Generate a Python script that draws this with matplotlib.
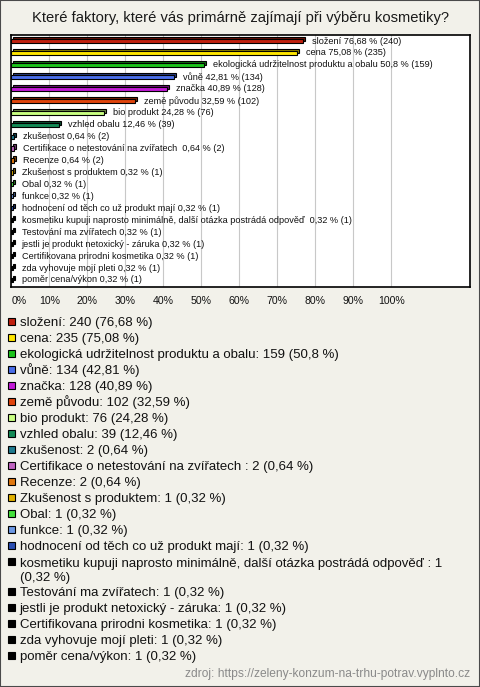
import textwrap
import numpy as np
import matplotlib
matplotlib.use("Agg")
import matplotlib.pyplot as plt
from matplotlib.patches import Rectangle
from matplotlib.transforms import offset_copy
from matplotlib.colors import to_rgb

title = "Které faktory, které vás primárně zajímají při výběru kosmetiky?"
categories = [
    "složení", "cena", "ekologická udržitelnost produktu a obalu", "vůně", "značka",
    "země původu", "bio produkt", "vzhled obalu", "zkušenost",
    "Certifikace o netestování na zvířatech ", "Recenze", "Zkušenost s produktem",
    "Obal", "funkce", "hodnocení od těch co už produkt mají",
    "kosmetiku kupuji naprosto minimálně, další otázka postrádá odpověď ",
    "Testování ma zvířatech", "jestli je produkt netoxický - záruka",
    "Certifikovana prirodni kosmetika", "zda vyhovuje mojí pleti", "poměr cena/výkon",
]
counts = [240, 235, 159, 134, 128, 102, 76, 39, 2, 2, 2, 1, 1, 1, 1, 1, 1, 1, 1, 1, 1]
percents = [76.68, 75.08, 50.8, 42.81, 40.89, 32.59, 24.28, 12.46, 0.64, 0.64, 0.64,
            0.32, 0.32, 0.32, 0.32, 0.32, 0.32, 0.32, 0.32, 0.32, 0.32]
colors = ['#c0200f', '#ffe600', '#1cc41c', '#4a6ee8', '#c21ad6', '#e0440c', '#c9ff82',
          '#138a55', '#1f7a8e', '#c064c0', '#e07810', '#e0b000', '#44e03c', '#6c98e4',
          '#2a4db0', '#000000', '#000000', '#000000', '#000000', '#000000', '#000000']
xticks = [0, 10, 20, 30, 40, 50, 60, 70, 80, 90, 100]
source = "zdroj: https://zeleny-konzum-na-trhu-potrav.vyplnto.cz"

FONT = ['Liberation Sans', 'DejaVu Sans']
plt.rcParams['font.family'] = FONT

W, H = 480, 687
fig = plt.figure(figsize=(W / 100, H / 100), dpi=100)
fig.patch.set_facecolor('#f2f1ea')


def fx(px):
    return px / W


def fy(py):
    return 1 - py / H


# outer frame
fig.add_artist(Rectangle((0, 0), 1, 1, transform=fig.transFigure, fill=False,
                         ec='#4a4a4a', lw=1.5))

fig.text(0.5, fy(18), title, ha='center', va='center', fontsize=10.6, color='#1a1a1a')

ax_l, ax_r, ax_t, ax_b = 10.7, 470, 35, 287.3
ax = fig.add_axes([fx(ax_l), fy(ax_b), (ax_r - ax_l) / W, (ax_b - ax_t) / H])
ax.set_facecolor('white')

n = len(categories)
y = np.arange(n)
pct = np.array(percents)
dark = [tuple(c * 0.55 for c in to_rgb(col)) for col in colors]

depth_tr = offset_copy(ax.transData, fig=fig, x=2, y=2, units='dots')
ax.barh(y, pct, height=0.35, color=dark, edgecolor='black', lw=0.8,
        transform=depth_tr, zorder=3)
ax.barh(y, pct, height=0.35, color=colors, edgecolor='black', lw=0.8, zorder=4)


def fmt(p):
    return f"{p:g}".replace('.', ',')


for i, (name, c, p) in enumerate(zip(categories, counts, percents)):
    ax.annotate(f"{name} {fmt(p)} % ({c})", xy=(p, i), xytext=(9, 0),
                textcoords='offset pixels', va='center', ha='left',
                fontsize=6.6, color='#111111', zorder=5)

px_per_unit = 3.8
zero_px = 11.3
ax.set_xlim((ax_l - zero_px) / px_per_unit, (ax_r - zero_px) / px_per_unit)
step = 11.95
ax.set_ylim((ax_b - 41) / step, -(41 - ax_t) / step)
ax.set_xticks(xticks)
ax.set_xticklabels([f"{v}%" for v in xticks], fontsize=7.6, color='#111111')
ax.get_xticklabels()[0].set_horizontalalignment('left')
ax.set_yticks([])
ax.tick_params(axis='x', length=0, pad=6)
ax.grid(axis='x', color='#c8c8c8', lw=0.8, zorder=0)
ax.set_axisbelow(True)
for s in ax.spines.values():
    s.set_color('black')
    s.set_linewidth(1.2)

# legend
line_px = 14.5
ypx = 321.7
for name, c, p, col in zip(categories, counts, percents, colors):
    label = textwrap.fill(f"{name}: {c} ({fmt(p)} %)", width=70)
    nl = label.count("\n")
    fig.add_artist(Rectangle((fx(8), fy(ypx + 3.5)), 7 / W, 7 / H,
                             transform=fig.transFigure, fc=col, ec='black', lw=0.8))
    fig.text(fx(19.5), fy(ypx + 4.6 + nl * line_px), label, ha='left', va='baseline',
             fontsize=9.5, color='#111111', linespacing=1.16)
    ypx += 16 + nl * 13.5

fig.text(fx(470), fy(674.3), source, ha='right', va='center', fontsize=8.65,
         color='#8a8a8a')

fig.savefig("out.png", dpi=100, facecolor=fig.get_facecolor())
